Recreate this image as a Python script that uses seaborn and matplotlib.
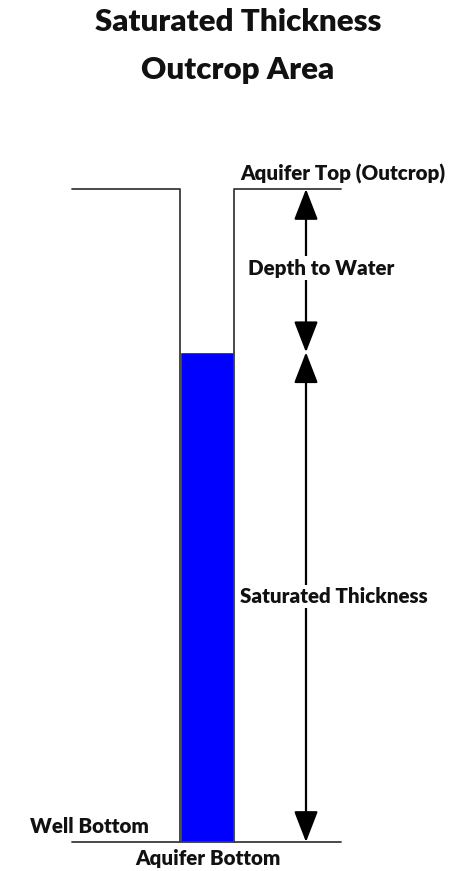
import matplotlib
matplotlib.use("Agg")
from matplotlib import pyplot as plt
import seaborn as sns

# Depths below the aquifer top (schematic units, ft)
level_names = ["Aquifer Top (Outcrop)", "Water Level", "Aquifer Bottom"]
level_depths = [0, 25, 100]

interval_labels = ["Depth to Water", "Saturated Thickness"]
title_lines = ["Saturated Thickness", "Outcrop Area"]
well_label = "Well Bottom"

# layout (pixel-like x units, depth mapped so 1 ft = 6.53 px)
W, H = 472, 871
px_per_ft = 6.53
top_px = 189
ground_x = [72, 341]
well_x = [180, 234]
arrow_x = 306


def main():
    sns.set_theme(style="white")
    plt.rcParams["font.family"] = ["Lato", "DejaVu Sans"]

    fig = plt.figure(figsize=(W / 100, H / 100), dpi=100)
    ax = fig.add_axes([0, 0, 1, 1])
    ax.set_xlim(0, W)
    ax.set_ylim((H - top_px) / px_per_ft, -top_px / px_per_ft)
    ax.axis("off")

    top, water, bottom = level_depths
    wall = "#3a3a3a"
    ink = "#111111"
    fs = 14.8

    # water column
    ax.bar((well_x[0] + well_x[1]) / 2, bottom - water, bottom=water,
           width=well_x[1] - well_x[0], color="#0000ff", zorder=1)

    # ground surface and well walls
    ax.plot([ground_x[0], well_x[0], well_x[0]], [top, top, bottom],
            color=wall, lw=1.3, zorder=2)
    ax.plot([ground_x[1], well_x[1], well_x[1]], [top, top, bottom],
            color=wall, lw=1.3, zorder=2)
    ax.plot(ground_x, [bottom, bottom], color=wall, lw=1.3, zorder=2)

    # dimension arrows
    style = "<|-|>,head_length=1.6,head_width=0.62"
    for a, b in [(top, water), (water, bottom)]:
        ax.annotate("", xy=(arrow_x, b), xytext=(arrow_x, a),
                    arrowprops=dict(arrowstyle=style, color="black", lw=1.6,
                                    shrinkA=0, shrinkB=0), zorder=3)

    bbox = dict(facecolor="white", edgecolor="none", pad=1.5)
    ax.text(248, (top + water) / 2 - 0.4, interval_labels[0], fontsize=fs,
            fontweight="heavy", ha="left", va="center", bbox=bbox, zorder=4,
            color=ink)
    ax.text(240, 62.4, interval_labels[1], fontsize=fs,
            fontweight="heavy", ha="left", va="center", bbox=bbox, zorder=4,
            color=ink)

    ax.text(240, top - 2.3, level_names[0], fontsize=fs, fontweight="heavy",
            ha="left", va="center", color=ink)
    ax.text(208, bottom + 2.5, level_names[2], fontsize=fs,
            fontweight="heavy", ha="center", va="center", color=ink)
    ax.text(30, bottom - 2.3, well_label, fontsize=fs, fontweight="heavy",
            ha="left", va="center", color=ink)

    # title
    ax.text(W / 2 + 2, -top_px / px_per_ft + 22 / px_per_ft, title_lines[0],
            fontsize=22.5, fontweight="heavy", ha="center", va="center",
            color=ink)
    ax.text(W / 2 + 2, -top_px / px_per_ft + 70 / px_per_ft, title_lines[1],
            fontsize=22.5, fontweight="heavy", ha="center", va="center",
            color=ink)

    fig.savefig("out.png", dpi=100, facecolor="white")


if __name__ == "__main__":
    main()
